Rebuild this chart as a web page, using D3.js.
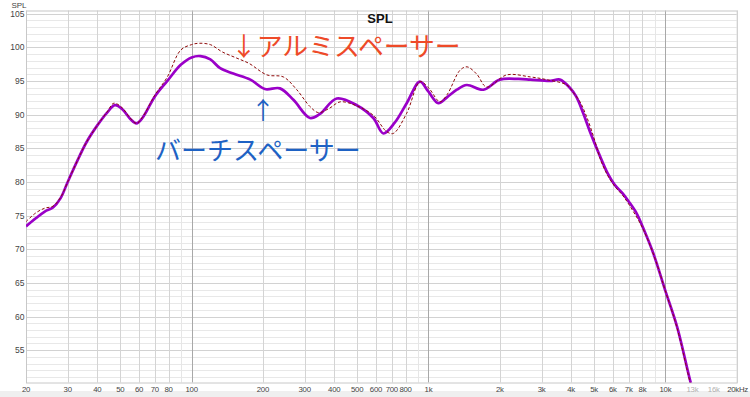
<!DOCTYPE html>
<html><head><meta charset="utf-8">
<script src="https://cdn.jsdelivr.net/npm/d3@7"></script>
<style>
html,body{margin:0;padding:0;background:#fff;}
svg{display:block;font-family:"Liberation Sans",Arial,sans-serif;}
</style></head>
<body>
<script>
// ---- data ----
const birchFreq = [20,22,24,26,28,30,33,36,40,44,47.5,51,55,58.5,62,70,79,90,100,109,120,132,150,177,204,236,269,316,348,410,498,585,645,720,809,920,1000,1101,1200,1317,1450,1705,2000,2400,2692,3268,3585,3950,4200,4500,4800,5300,5700,6100,6600,7000,7570,8070,8890,9960,11200,12700,13200];
const birchSPL  = [73.4,74.6,75.6,76.2,77.6,80.0,83.2,85.9,88.4,90.3,91.4,90.8,89.4,88.7,89.5,92.7,95.0,97.4,98.5,98.7,98.2,96.9,96.1,95.2,93.8,93.9,92.2,89.5,90.1,92.4,91.4,89.5,87.2,88.8,91.7,94.9,93.4,91.7,92.6,93.7,94.4,93.7,95.2,95.3,95.2,95.0,95.2,94.0,92.7,90.2,87.5,83.8,81.3,79.6,78.3,77.1,75.3,73.1,69.4,64.0,58.5,50.6,48.5];
const aluFreq = [20,22,24,26,28,30,33,36,40,44,47,51,55,58.5,62,70,79,90,100,107,120,135,155,175,208,244,278,316,343,380,424,498,585,665,710,809,922,1000,1119,1200,1359,1455,1600,1760,2137,2692,3150,3840,4060,4360,4650,5000,5300,5700,6100,6600,7000,8000,9000,10000,11200,12700,13200];
const aluSPL  = [74.1,75.4,76.1,76.4,77.7,80.0,83.2,85.9,88.4,90.4,91.7,91.0,89.5,88.7,89.6,92.9,95.6,99.6,100.4,100.6,100.4,99.3,98.4,97.6,95.9,95.6,93.7,91.2,90.3,90.9,91.9,91.3,89.9,87.5,87.2,90.2,94.9,94.0,91.9,93.0,96.6,97.1,96.0,94.1,95.9,95.6,95.2,94.4,93.4,91.9,89.7,86.5,83.5,81.0,79.4,78.0,76.7,73.2,68.8,63.8,58.3,50.3,48.2];
const yTicks = [55,60,65,70,75,80,85,90,95,100,105];
const xTickVals = [20,30,40,50,60,70,80,100,200,300,400,500,600,700,800,1000,2000,3000,4000,5000,6000,7000,8000,10000,13000,16000,20000];
const xTickLabels = ["20","30","40","50","60","70","80","100","200","300","400","500","600","700","800","1k","2k","3k","4k","5k","6k","7k","8k","10k","13k","16k","20kHz"];
const labelAlu = "↓アルミスペーサー";
const labelBirchArrow = "↑";
const labelBirch = "バーチスペーサー";
const title = "SPL";

// ---- layout ----
const W = 750, H = 397;
const L = 26, R = 736.7, T = 10.5, B = 382.5;
const svg = d3.select("body").append("svg").attr("width", W).attr("height", H);
const x = d3.scaleLog().domain([20, 20000]).range([L, R]);
const y = d3.scaleLinear().domain([50.2, 105.47]).range([B, T]);

svg.append("rect").attr("x",0).attr("y",391).attr("width",W).attr("height",6).attr("fill","#efefef");

// grid
const g = svg.append("g");
const hLines = d3.range(51, 106);
g.selectAll("line.h").data(hLines).enter().append("line")
  .attr("x1", L).attr("x2", R)
  .attr("y1", d => Math.round(y(d)) + 0.5).attr("y2", d => Math.round(y(d)) + 0.5)
  .attr("stroke", d => d % 5 === 0 ? "#d2d2d2" : "#e8e8e8").attr("stroke-width", 1);
const vLines = [];
[10,100,1000,10000].forEach(dec => { for (let n = 1; n <= 9; n++) { const f = n*dec; if (f >= 20 && f <= 20000) vLines.push(f); } });
vLines.push(20000);
const labeled = new Set(xTickVals);
g.selectAll("line.v").data(vLines).enter().append("line")
  .attr("y1", T).attr("y2", B)
  .attr("x1", d => Math.round(x(d)) + 0.5).attr("x2", d => Math.round(x(d)) + 0.5)
  .attr("stroke", d => (d===100||d===1000||d===10000) ? "#a8a8a8" : (labeled.has(d) && d < 10000 ? "#d4d4d4" : "#e6e6e6"))
  .attr("stroke-width", 1);
// frame
svg.append("rect").attr("x", L+0.5).attr("y", T+0.5).attr("width", R-L).attr("height", B-T)
  .attr("fill","none").attr("stroke","#c8c8c8");

// axes labels
svg.append("g").selectAll("text").data(yTicks).enter().append("text")
  .attr("x", 24.5).attr("y", d => y(d) + 3).attr("text-anchor","end")
  .attr("font-size", 8.5).attr("fill","#444").text(d => d);
const last = xTickVals.length - 1;
svg.append("g").selectAll("text").data(xTickVals).enter().append("text")
  .attr("x", (d,i) => i === last ? 748 : x(d))
  .attr("y", 391.5).attr("text-anchor", (d,i) => i === last ? "end" : "middle")
  .attr("font-size", 7.8).attr("letter-spacing", -0.25)
  .attr("fill", (d,i) => (xTickLabels[i]==="13k"||xTickLabels[i]==="16k") ? "#b0b0b0" : "#444")
  .text((d,i) => xTickLabels[i]);
svg.append("text").attr("x", 19).attr("y", 8).attr("text-anchor","middle").attr("font-size", 8).attr("fill","#444").text("SPL");
svg.append("text").attr("x", 380).attr("y", 23).attr("text-anchor","middle").attr("font-size", 13).attr("font-weight","bold").attr("fill","#111").text(title);

// curves
svg.append("clipPath").attr("id","clip").append("rect").attr("x",L).attr("y",T).attr("width",R-L).attr("height",B-T);
const line = d3.line().x(d => x(d[0])).y(d => y(d[1])).curve(d3.curveCatmullRom.alpha(0.5));
const birch = birchFreq.map((f,i) => [f, birchSPL[i]]);
const alu = aluFreq.map((f,i) => [f, aluSPL[i]]);
svg.append("path").attr("clip-path","url(#clip)").attr("d", line(birch))
  .attr("fill","none").attr("stroke","#9a00c8").attr("stroke-width",2.7).attr("stroke-linejoin","round");
svg.append("path").attr("clip-path","url(#clip)").attr("d", line(alu))
  .attr("fill","none").attr("stroke","#8e0a0a").attr("stroke-width",1).attr("stroke-dasharray","3,2");

// annotations
const cjk = '"Noto Sans CJK JP","Noto Sans CJK SC",sans-serif';
svg.append("text").attr("x", 231).attr("y", 56).attr("font-family", cjk).attr("font-size", 25.8)
  .attr("fill","#ee4a28").text(labelAlu);
svg.append("text").attr("x", 251).attr("y", 119).attr("font-family", cjk).attr("font-size", 24)
  .attr("fill","#1e62c4").text(labelBirchArrow);
svg.append("text").attr("x", 155).attr("y", 160).attr("font-family", cjk).attr("font-size", 26)
  .attr("fill","#1e62c4").text(labelBirch);
</script>
</body></html>
